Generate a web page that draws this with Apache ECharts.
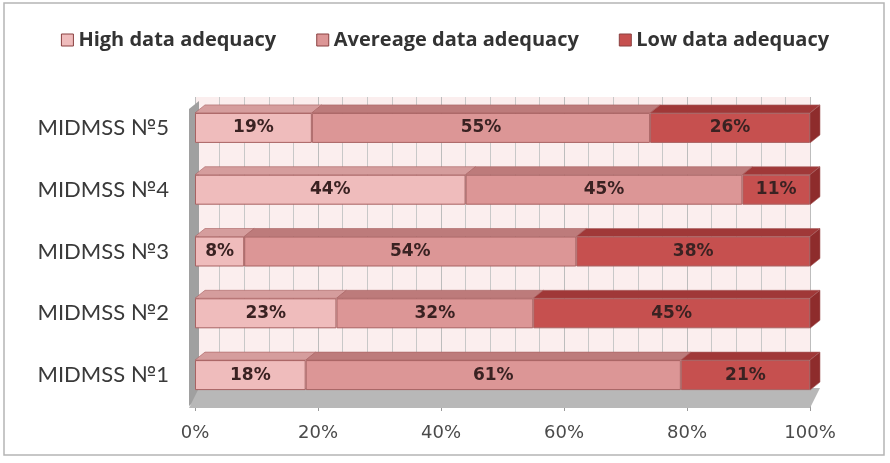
<!DOCTYPE html>
<html>
<head>
<meta charset="utf-8">
<script src="https://cdn.jsdelivr.net/npm/echarts@6/dist/echarts.min.js"></script>
<style>
html, body { margin: 0; padding: 0; background: #fff; }
#chartmain { width: 890px; height: 463px; }
</style>
</head>
<body>
<div id="chartmain"></div>
<script>
var categories = ['MIDMSS №1', 'MIDMSS №2', 'MIDMSS №3', 'MIDMSS №4', 'MIDMSS №5'];
var highData = [18, 23, 8, 44, 19];
var averageData = [61, 32, 54, 45, 55];
var lowData = [21, 45, 38, 11, 26];
var seriesNames = ['High data adequacy', 'Avereage data adequacy', 'Low data adequacy'];
var xTicks = [0, 20, 40, 60, 80, 100];

var frontColors = ['#efbcbc', '#dc9696', '#c6504f'];
var topColors = ['#d59d9d', '#bd7b7b', '#a03838'];
var sideColor = '#8e2c2c';
var edgeColor = '#a86262';
var DX = 10, DY = 8, BAR_H = 30;

// 3D faces (top + right side) built from the same values
var faceData = [];
var allSeries = [highData, averageData, lowData];
for (var c = 0; c < categories.length; c++) {
    var start = 0;
    for (var s = 0; s < allSeries.length; s++) {
        var end = start + allSeries[s][c];
        faceData.push([c, start, end, s, s == allSeries.length - 1 ? 1 : 0]);
        start = end;
    }
}

function renderFace(params, api) {
    var cat = api.value(0);
    var p0 = api.coord([api.value(1), cat]);
    var p1 = api.coord([api.value(2), cat]);
    var s = api.value(3);
    var top = p0[1] - BAR_H / 2;
    var children = [{
        type: 'polygon',
        shape: { points: [[p0[0], top], [p1[0], top], [p1[0] + DX, top - DY], [p0[0] + DX, top - DY]] },
        style: { fill: topColors[s], stroke: edgeColor, lineWidth: 0.6 }
    }];
    if (api.value(4) == 1) {
        children.push({
            type: 'polygon',
            shape: { points: [[p1[0], top], [p1[0] + DX, top - DY], [p1[0] + DX, top + BAR_H - DY], [p1[0], top + BAR_H]] },
            style: { fill: sideColor, stroke: edgeColor, lineWidth: 0.6 }
        });
    }
    return { type: 'group', children: children };
}

function renderWalls(params, api) {
    var cs = params.coordSys;
    var x = cs.x, y = cs.y, w = cs.width, h = cs.height;
    return {
        type: 'group',
        children: [{
            type: 'polygon',
            shape: { points: [[x - 6, y + DY + 4], [x + DX - 6, y + 4], [x + DX - 6, y + h - DY], [x - 6, y + h]] },
            style: { fill: '#a0a0a0' }
        }, {
            type: 'polygon',
            shape: { points: [[x - 6, y + h + 2], [x + w, y + h + 2], [x + w + DX, y + h - DY - 10], [x + DX - 6, y + h - DY - 10]] },
            style: { fill: '#b8b8b8' }
        }]
    };
}

function pctLabel(p) {
    return p.value + '%';
}

var labelStyle = {
    show: true,
    position: 'inside',
    formatter: pctLabel,
    color: '#3a2222',
    fontFamily: 'DejaVu Sans',
    fontWeight: 'bold',
    fontSize: 17
};

function barSeries(name, data, idx) {
    return {
        name: name,
        type: 'bar',
        stack: 'total',
        barWidth: BAR_H,
        data: data,
        z: 3,
        itemStyle: { color: frontColors[idx], borderColor: edgeColor, borderWidth: 1 },
        label: labelStyle
    };
}

var option = {
    animation: false,
    backgroundColor: '#ffffff',
    textStyle: { fontFamily: 'Lato' },
    graphic: [{
        type: 'rect',
        shape: { x: 4, y: 3, width: 880, height: 452 },
        style: { fill: 'none', stroke: '#b5b5b5', lineWidth: 1.5 },
        silent: true
    }],
    legend: {
        top: 25,
        left: 'center',
        itemWidth: 12,
        itemHeight: 12,
        itemGap: 40,
        icon: 'rect',
        data: seriesNames,
        itemStyle: { borderColor: '#8a4040', borderWidth: 1 },
        textStyle: { fontFamily: 'Open Sans', fontWeight: 'bold', fontSize: 20, color: '#333' }
    },
    grid: { left: 195, right: 80, top: 97, bottom: 57 },
    xAxis: {
        type: 'value',
        min: 0,
        max: 100,
        interval: 20,
        axisLine: { show: true, lineStyle: { color: '#9a9a9a' } },
        axisTick: { show: true, length: 5, lineStyle: { color: '#9a9a9a' } },
        axisLabel: {
            formatter: function(v) { return xTicks.indexOf(v) >= 0 ? v + '%' : ''; },
            color: '#4a4a4a',
            fontFamily: 'DejaVu Sans',
            fontSize: 18,
            margin: 18
        },
        splitLine: { show: true, lineStyle: { color: '#bdbdbd', width: 1 } },
        minorTick: { show: false, splitNumber: 5 },
        minorSplitLine: { show: true, lineStyle: { color: '#c8c8c8', width: 1 } },
        splitArea: { show: false }
    },
    yAxis: {
        type: 'category',
        data: categories,
        axisLine: { show: false },
        axisTick: { show: false },
        axisLabel: { color: '#3a3a3a', fontFamily: 'Lato', fontSize: 22, margin: 26 },
        splitArea: { show: true, areaStyle: { color: ['#fbeeee', '#fbeeee'] } }
    },
    series: [
        {
            type: 'custom',
            renderItem: renderWalls,
            data: [0],
            silent: true,
            z: 1
        },
        barSeries(seriesNames[0], highData, 0),
        barSeries(seriesNames[1], averageData, 1),
        barSeries(seriesNames[2], lowData, 2),
        {
            type: 'custom',
            renderItem: renderFace,
            data: faceData,
            encode: { x: [1, 2], y: 0 },
            silent: true,
            z: 4
        }
    ]
};

var myChart = echarts.init(document.getElementById('chartmain'));
myChart.setOption(option);
</script>
</body>
</html>
